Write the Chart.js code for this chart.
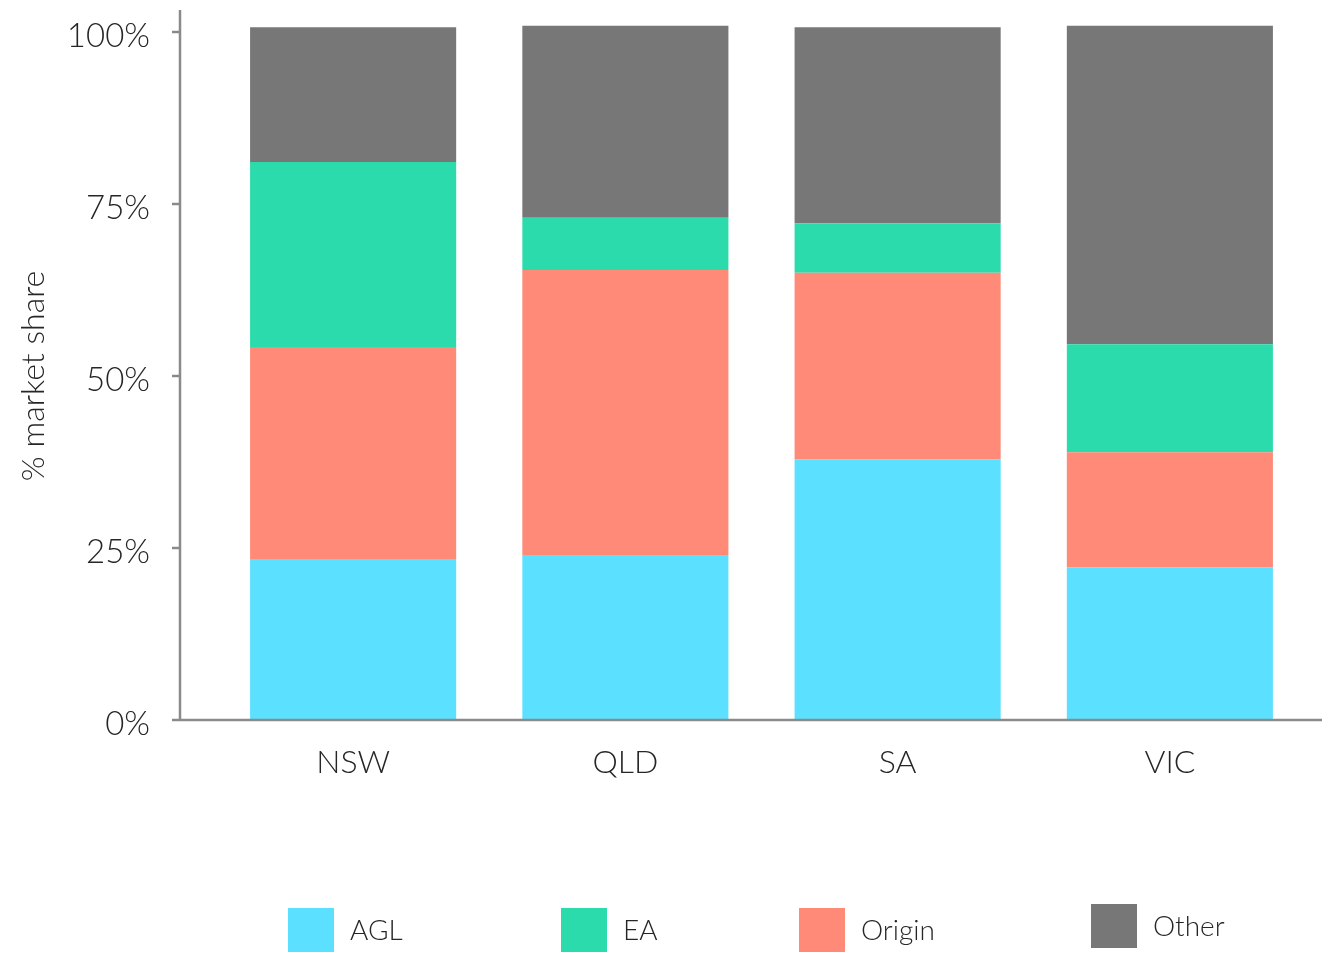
<!DOCTYPE html>
<html>
<head>
<meta charset="utf-8">
<title>Market share by state</title>
<script src="https://cdn.jsdelivr.net/npm/chart.js@4.4.1/dist/chart.umd.min.js"></script>
<style>
  html, body { margin: 0; padding: 0; background: #fff; }
  canvas { display: block; }
</style>
</head>
<body>
<canvas id="shareChart" width="1329" height="953"></canvas>
<script>
// values, % of market per state
const states = ['NSW', 'QLD', 'SA', 'VIC'];
const agl = [23.4, 24.0, 37.9, 22.2];
const origin = [30.8, 41.4, 27.1, 16.7];
const ea = [26.9, 7.6, 7.2, 15.7];
const other = [19.6, 27.9, 28.5, 46.3];
const yTicks = [0, 25, 50, 75, 100];

const legendOrder = ['AGL', 'EA', 'Origin', 'Other'];
const legendX = [288, 561, 799, 1091];
const legendY = [908, 908, 908, 904];

const FONT = 'Lato';
const AXIS_GREY = '#8a8a8a';
const TEXT = '#262626';

// axis lines sit a bit left of the bars, with small tick marks
const axisLines = {
  id: 'axisLines',
  afterDatasetsDraw(chart) {
    const { ctx, chartArea, scales: { y } } = chart;
    const x0 = chartArea.left - 37;
    ctx.save();
    ctx.strokeStyle = AXIS_GREY;
    ctx.lineWidth = 2.5;
    ctx.beginPath();
    ctx.moveTo(x0, 10);
    ctx.lineTo(x0, chartArea.bottom + 1);
    y.ticks.forEach(t => {
      const py = y.getPixelForValue(t.value);
      ctx.moveTo(x0 - 8, py);
      ctx.lineTo(x0, py);
    });
    ctx.moveTo(x0 - 8, chartArea.bottom);
    ctx.lineTo(chartArea.right + 16, chartArea.bottom);
    ctx.stroke();
    ctx.restore();
  }
};

const bottomLegend = {
  id: 'bottomLegend',
  afterDraw(chart) {
    const { ctx } = chart;
    ctx.save();
    ctx.font = `300 28px ${FONT}`;
    ctx.textBaseline = 'middle';
    legendOrder.forEach((name, i) => {
      const ds = chart.data.datasets.find(d => d.label === name);
      ctx.fillStyle = ds.backgroundColor;
      ctx.fillRect(legendX[i], legendY[i], 46, 44);
      ctx.fillStyle = TEXT;
      ctx.fillText(name, legendX[i] + 62, legendY[i] + 23);
    });
    ctx.restore();
  }
};

new Chart(document.getElementById('shareChart'), {
  type: 'bar',
  data: {
    labels: states,
    datasets: [
      { label: 'AGL', data: agl, backgroundColor: '#5be0ff' },
      { label: 'Origin', data: origin, backgroundColor: '#ff8a78' },
      { label: 'EA', data: ea, backgroundColor: '#2cdbab' },
      { label: 'Other', data: other, backgroundColor: '#777777' }
    ]
  },
  options: {
    responsive: false,
    animation: false,
    datasets: { bar: { barPercentage: 1, categoryPercentage: 0.757, clip: false } },
    layout: { padding: { top: 32, right: 23, left: 0, bottom: 0 } },
    plugins: { legend: { display: false }, tooltip: { enabled: false } },
    scales: {
      x: {
        stacked: true,
        grid: { display: false, drawTicks: false },
        border: { display: false },
        ticks: { color: TEXT, padding: 23, font: { family: FONT, size: 32, weight: 300 } },
        afterFit(s) { s.height = 233; }
      },
      y: {
        stacked: true,
        min: 0,
        max: 100,
        afterBuildTicks(s) { s.ticks = yTicks.map(v => ({ value: v })); },
        // tick marks are drawn by the plugin; tickLength only pushes the labels left
        grid: { display: false, drawTicks: true, tickLength: 60 },
        border: { display: false },
        ticks: {
          color: TEXT,
          padding: 7,
          labelOffset: 4,
          font: { family: FONT, size: 33, weight: 300 },
          callback: v => v + '%'
        },
        title: {
          display: true,
          text: '% market share',
          color: TEXT,
          padding: { top: 14, bottom: 0 },
          font: { family: FONT, size: 32, weight: 300 }
        },
        afterFit(s) { s.width = 217; }
      }
    }
  },
  plugins: [axisLines, bottomLegend]
});
</script>
</body>
</html>
